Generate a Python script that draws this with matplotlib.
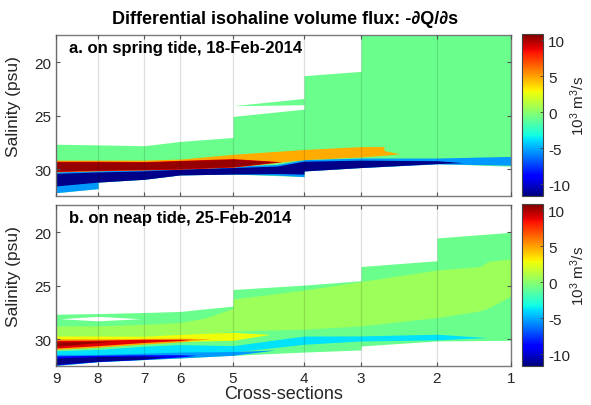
import numpy as np
import matplotlib
matplotlib.use('Agg')
import matplotlib.pyplot as plt
from matplotlib import colors, cm

plt.rcParams['font.family'] = ['Liberation Sans', 'DejaVu Sans']
plt.rcParams['axes.unicode_minus'] = False
plt.rcParams['mathtext.default'] = 'regular'

# cross-sections and their distance along the channel (km)
SECTIONS = ['9', '8', '7', '6', '5', '4', '3', '2', '1']
SECTION_KM = [0.0, 4.2, 8.8, 12.4, 17.7, 24.8, 30.5, 38.1, 45.5]

# colour scale of -dQ/ds (10^3 m^3/s)
FLUX_MIN, FLUX_MAX = -11.6, 10.9
CBAR_TICKS = [-10, -5, 0, 5, 10]

# each flux class: distance (km), upper salinity, lower salinity (psu), value
# --- a. spring tide ---
A_BG_KM = [0.0, 4.2, 4.2, 8.8, 12.4, 17.7, 17.7, 24.8, 24.8, 30.5, 30.5, 38.1, 45.5]
A_BG_TOP = [27.66, 27.72, 27.72, 27.8, 27.4, 27.03, 25.06, 24.38, 21.25, 20.85, 17.4, 17.4, 17.4]
A_BG_BOT = [32.19, 31.81, 31.2, 30.94, 30.53, 30.45, 30.45, 30.69, 30.16, 29.84, 29.84, 29.47, 29.72]
A_BG_FLUX = -0.8

A_STRIP_KM = [17.7, 24.8]
A_STRIP_TOP = [24.06, 23.38]
A_STRIP_BOT = [24.06, 23.97]
A_STRIP_FLUX = -0.8

A_LB_KM = [0.0, 4.2, 4.2, 8.8, 12.4, 17.7, 22.1, 24.8, 24.8, 30.5, 38.1, 45.5]
A_LB_TOP = [30.2, 30.1, 30.1, 30.0, 29.85, 29.7, 29.55, 29.1, 29.1, 28.95, 28.95, 28.8]
A_LB_BOT = [32.19, 31.81, 31.2, 30.94, 30.53, 30.45, 30.55, 30.69, 30.16, 29.84, 29.5, 29.62]
A_LB_FLUX = -5.4

A_DB_KM = [0.0, 4.2, 8.8, 12.4, 17.7, 22.1, 24.8, 24.8, 30.5, 38.1, 40.7]
A_DB_TOP = [30.38, 30.25, 30.15, 30.0, 29.84, 29.7, 29.25, 29.25, 29.15, 29.2, 29.38]
A_DB_BOT = [31.56, 31.2, 30.94, 30.53, 30.45, 30.4, 30.45, 30.16, 29.84, 29.47, 29.38]
A_DB_FLUX = -11.35

A_OR_KM = [0.0, 4.2, 8.8, 12.4, 17.7, 24.8, 30.5, 32.8, 32.8, 34.4]
A_OR_TOP = [29.15, 29.15, 29.15, 29.05, 28.6, 28.15, 27.88, 27.88, 28.25, 28.55]
A_OR_BOT = [30.25, 30.15, 30.05, 29.95, 29.8, 29.1, 28.85, 28.7, 28.7, 28.55]
A_OR_FLUX = 4.8

A_RD_KM = [0.0, 4.2, 8.8, 12.4, 17.7, 22.6]
A_RD_TOP = [29.25, 29.25, 29.28, 29.17, 29.0, 29.3]
A_RD_BOT = [30.22, 30.12, 30.06, 30.0, 29.8, 29.3]
A_RD_FLUX = 8.9

A_DR_KM = [0.0, 4.2, 8.8, 12.4, 17.7, 22.1]
A_DR_TOP = [29.31, 29.31, 29.33, 29.22, 29.06, 29.3]
A_DR_BOT = [30.16, 30.06, 30.0, 29.94, 29.75, 29.3]
A_DR_FLUX = 10.4

# --- b. neap tide ---
B_BG_KM = [0.0, 4.2, 8.8, 12.4, 17.7, 17.7, 24.8, 30.5, 30.5, 38.1, 38.1, 45.5]
B_BG_TOP = [27.66, 27.6, 27.5, 27.4, 26.9, 25.35, 24.94, 24.53, 23.2, 22.66, 20.53, 20.0]
B_BG_BOT = [32.45, 32.1, 31.9, 31.75, 31.5, 31.5, 31.2, 31.0, 30.63, 30.16, 30.16, 30.1]
B_BG_FLUX = -0.8

B_LENS_KM = [0.4, 4.2, 8.4]        # no data inside
B_LENS_TOP = [28.08, 27.86, 28.08]
B_LENS_BOT = [28.08, 28.28, 28.08]

B_YG_KM = [0.0, 4.2, 8.8, 12.4, 15.0, 17.7, 17.7, 24.8, 30.5, 38.1, 42.4, 43.3, 45.5]
B_YG_TOP = [28.75, 28.75, 28.6, 28.44, 28.0, 27.1, 26.25, 25.4, 24.6, 23.53, 23.2, 22.7, 22.5]
B_YG_BOT = [29.9, 29.9, 29.9, 29.8, 29.6, 29.22, 29.22, 29.06, 28.75, 27.97, 27.35, 27.05, 25.94]
B_YG_FLUX = 0.55

B_Y_KM = [0.0, 4.2, 8.8, 12.4, 17.7, 21.4]
B_Y_TOP = [29.69, 29.69, 29.72, 29.55, 29.35, 29.55]
B_Y_BOT = [30.1, 30.15, 30.15, 30.2, 30.1, 29.55]
B_Y_FLUX = 2.8

B_OR_KM = [0.0, 4.2, 8.8, 12.4, 15.5]
B_OR_TOP = [29.95, 29.95, 29.92, 29.9, 29.95]
B_OR_BOT = [30.95, 30.75, 30.45, 30.25, 29.95]
B_OR_FLUX = 4.8

B_RD_KM = [0.0, 4.2, 8.8, 12.4, 13.7]
B_RD_TOP = [30.1, 30.08, 30.0, 30.0, 30.0]
B_RD_BOT = [30.82, 30.6, 30.3, 30.12, 30.0]
B_RD_FLUX = 8.9

B_DR_KM = [0.0, 2.5, 6.0]
B_DR_TOP = [30.25, 30.22, 30.15]
B_DR_BOT = [30.65, 30.45, 30.15]
B_DR_FLUX = 10.4

B_CY_KM = [0.0, 4.2, 8.8, 12.4, 17.7, 24.8, 30.5, 38.1, 43.1]
B_CY_TOP = [31.08, 30.95, 30.65, 30.5, 30.6, 29.7, 29.69, 29.53, 29.84]
B_CY_BOT = [31.6, 31.6, 31.45, 31.3, 31.2, 30.47, 30.16, 30.06, 29.84]
B_CY_FLUX = -3.8

B_LB_KM = [0.0, 4.2, 8.8, 12.4, 17.7, 22.0]
B_LB_TOP = [31.42, 31.42, 31.3, 31.2, 31.15, 31.0]
B_LB_BOT = [32.45, 32.1, 31.9, 31.75, 31.5, 31.0]
B_LB_FLUX = -5.4

B_BL_KM = [0.0, 4.2, 8.8, 12.4, 14.0]
B_BL_TOP = [31.55, 31.5, 31.45, 31.45, 31.5]
B_BL_BOT = [32.4, 32.08, 31.88, 31.65, 31.5]
B_BL_FLUX = -8.8

B_DB_KM = [0.0, 4.2, 8.8, 11.0]
B_DB_TOP = [31.75, 31.62, 31.58, 31.65]
B_DB_BOT = [32.35, 32.05, 31.85, 31.65]
B_DB_FLUX = -11.35

# orden de pintado (de abajo hacia arriba)
bands_a = [
    (A_BG_KM, A_BG_TOP, A_BG_BOT, A_BG_FLUX),
    (A_STRIP_KM, A_STRIP_TOP, A_STRIP_BOT, A_STRIP_FLUX),
    (A_LB_KM, A_LB_TOP, A_LB_BOT, A_LB_FLUX),
    (A_DB_KM, A_DB_TOP, A_DB_BOT, A_DB_FLUX),
    (A_OR_KM, A_OR_TOP, A_OR_BOT, A_OR_FLUX),
    (A_RD_KM, A_RD_TOP, A_RD_BOT, A_RD_FLUX),
    (A_DR_KM, A_DR_TOP, A_DR_BOT, A_DR_FLUX),
]
bands_b = [
    (B_BG_KM, B_BG_TOP, B_BG_BOT, B_BG_FLUX),
    (B_LENS_KM, B_LENS_TOP, B_LENS_BOT, None),
    (B_YG_KM, B_YG_TOP, B_YG_BOT, B_YG_FLUX),
    (B_Y_KM, B_Y_TOP, B_Y_BOT, B_Y_FLUX),
    (B_OR_KM, B_OR_TOP, B_OR_BOT, B_OR_FLUX),
    (B_RD_KM, B_RD_TOP, B_RD_BOT, B_RD_FLUX),
    (B_DR_KM, B_DR_TOP, B_DR_BOT, B_DR_FLUX),
    (B_CY_KM, B_CY_TOP, B_CY_BOT, B_CY_FLUX),
    (B_LB_KM, B_LB_TOP, B_LB_BOT, B_LB_FLUX),
    (B_BL_KM, B_BL_TOP, B_BL_BOT, B_BL_FLUX),
    (B_DB_KM, B_DB_TOP, B_DB_BOT, B_DB_FLUX),
]

cmap = plt.get_cmap('jet')
norm = colors.Normalize(vmin=FLUX_MIN, vmax=FLUX_MAX)

fig = plt.figure(figsize=(5.91, 4.06), dpi=100)
ax_a = fig.add_axes([0.0948, 0.5148, 0.7698, 0.3965])
ax_b = fig.add_axes([0.0948, 0.0961, 0.7698, 0.3965])
cax_a = fig.add_axes([0.8827, 0.5155, 0.0365, 0.3983])
cax_b = fig.add_axes([0.8827, 0.0968, 0.0365, 0.3983])

frame = '#7a7a7a'
txt = '#262626'

for ax, bands, label in [(ax_a, bands_a, 'a. on spring tide, 18-Feb-2014'),
                         (ax_b, bands_b, 'b. on neap tide, 25-Feb-2014')]:
    for km, top, bot, flux in bands:
        c = 'white' if flux is None else cmap(norm(flux))
        ax.fill_between(km, top, bot, color=c, linewidth=0, zorder=1)
    ax.set_xlim(SECTION_KM[0], SECTION_KM[-1])
    ax.set_ylim(32.5, 17.45)
    ax.set_xticks(SECTION_KM)
    ax.set_yticks([20, 25, 30])
    ax.grid(True, axis='x', color='#000000', alpha=0.13, linewidth=0.9, zorder=3)
    ax.set_axisbelow(False)
    ax.tick_params(direction='in', top=True, right=True, length=3, width=0.8,
                   color='#555555', labelsize=11, labelcolor=txt)
    for sp in ax.spines.values():
        sp.set_color(frame)
        sp.set_linewidth(1.0)
    ax.set_ylabel('Salinity (psu)', fontsize=12.5, color=txt)
    ax.yaxis.set_label_coords(-0.076, 0.56)
    ax.text(0.029, 0.925, label, transform=ax.transAxes, fontsize=12,
            fontweight='bold', va='center', ha='left', color='black')

ax_a.set_xticklabels([])
ax_b.set_xticklabels(SECTIONS)
ax_b.set_xlabel('Cross-sections', fontsize=13, color=txt, labelpad=0)

for cax in [cax_a, cax_b]:
    cb = fig.colorbar(cm.ScalarMappable(norm=norm, cmap=cmap), cax=cax)
    cb.set_ticks(CBAR_TICKS)
    cb.set_ticklabels([str(t) for t in CBAR_TICKS])
    cb.outline.set_edgecolor('#444444')
    cb.outline.set_linewidth(0.8)
    cax.tick_params(direction='in', length=2.5, width=0.6, labelsize=11,
                    labelcolor=txt, color='#444444')
    cax.text(2.58, 0.56, r'10$^3$ m$^3$/s', transform=cax.transAxes,
             rotation=90, ha='center', va='center', fontsize=11, color=txt)

fig.text(0.482, 0.953, 'Differential isohaline volume flux: -\u2202Q/\u2202s',
         ha='center', va='center', fontsize=13, fontweight='bold', color='black')

fig.savefig('out.png', dpi=100)
